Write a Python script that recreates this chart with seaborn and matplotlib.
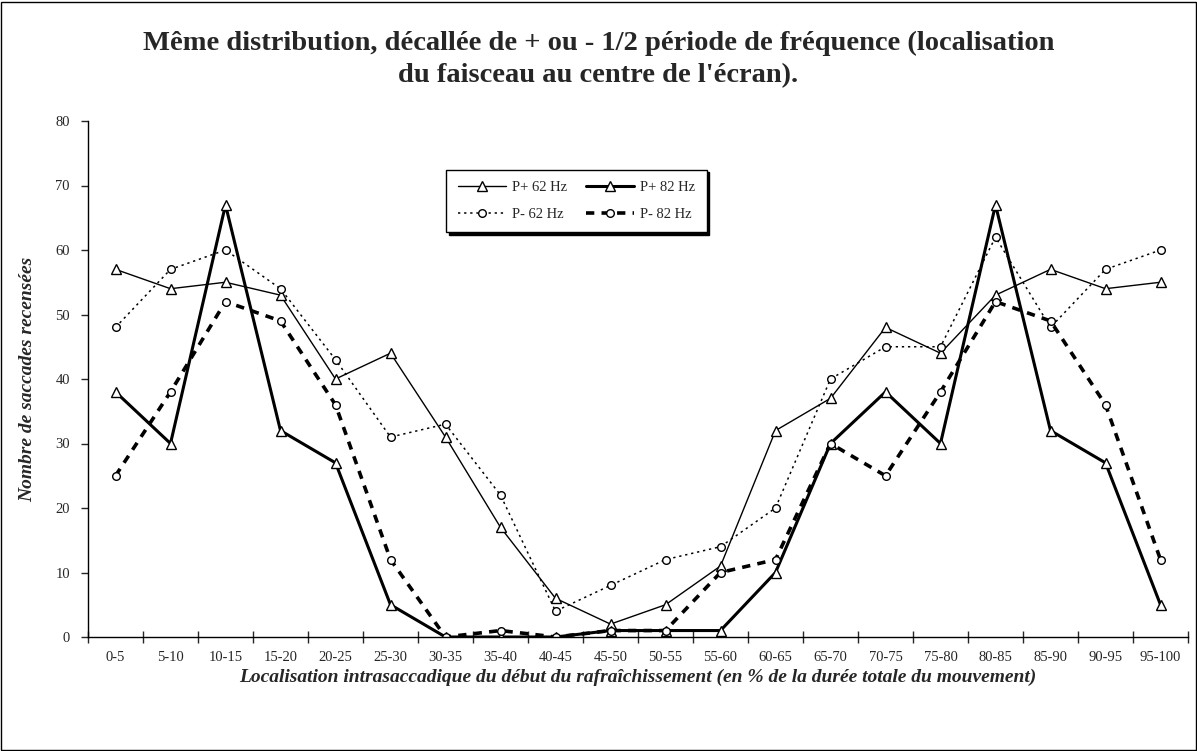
import pandas as pd
import seaborn as sns
import matplotlib.pyplot as plt
from matplotlib.ticker import FixedLocator

# Categories (x axis) and series
categories = ['0-5', '5-10', '10-15', '15-20', '20-25', '25-30', '30-35', '35-40',
              '40-45', '45-50', '50-55', '55-60', '60-65', '65-70', '70-75', '75-80',
              '80-85', '85-90', '90-95', '95-100']
p_plus_62 = [57, 54, 55, 53, 40, 44, 31, 17, 6, 2, 5, 11, 32, 37, 48, 44, 53, 57, 54, 55]
p_plus_82 = [38, 30, 67, 32, 27, 5, 0, 0, 0, 1, 1, 1, 10, 30, 38, 30, 67, 32, 27, 5]
p_minus_62 = [48, 57, 60, 54, 43, 31, 33, 22, 4, 8, 12, 14, 20, 40, 45, 45, 62, 48, 57, 60]
p_minus_82 = [25, 38, 52, 49, 36, 12, 0, 1, 0, 1, 1, 10, 12, 30, 25, 38, 52, 49, 36, 12]

sns.set_style('ticks')
plt.rcParams['font.family'] = ['Liberation Serif', 'DejaVu Serif']

fig = plt.figure(figsize=(11.97, 7.51), dpi=100)
ax = fig.add_axes([88 / 1197, 1 - 637 / 751, 1100 / 1197, 516 / 751])

df = pd.DataFrame({'cat': categories, 'p62': p_plus_62, 'p82': p_plus_82,
                   'm62': p_minus_62, 'm82': p_minus_82})

marker_kw = dict(markerfacecolor='white', markeredgecolor='black', color='black',
                 markeredgewidth=1)
sns.lineplot(data=df, x='cat', y='p62', ax=ax, marker='^', markersize=6.5, linewidth=1,
             label='P+ 62 Hz', sort=False, **marker_kw)
sns.lineplot(data=df, x='cat', y='m62', ax=ax, marker='o', markersize=5.5, linewidth=1.1,
             dashes=(1.5, 2.5), label='P- 62 Hz', sort=False, **marker_kw)
sns.lineplot(data=df, x='cat', y='p82', ax=ax, marker='^', markersize=6.5, linewidth=2.2,
             label='P+ 82 Hz', sort=False, **marker_kw)
sns.lineplot(data=df, x='cat', y='m82', ax=ax, marker='o', markersize=5.5, linewidth=2.6,
             dashes=(2.3, 2), label='P- 82 Hz', sort=False, **marker_kw)

ax.set_xlim(-0.5, len(categories) - 0.5)
ax.set_ylim(0, 80)
ax.set_yticks(range(0, 81, 10))
ax.set_xticks(range(len(categories)))
ax.set_xticklabels(categories)
ax.xaxis.set_minor_locator(FixedLocator([i - 0.5 for i in range(len(categories) + 1)]))
ax.tick_params(axis='x', which='major', length=0, labelsize=10.5, pad=10)
ax.tick_params(axis='x', which='minor', length=8, width=1, direction='inout')
ax.tick_params(axis='y', length=5, width=1, labelsize=10.5, pad=8, direction='out')
sns.despine(ax=ax)
for s in ['left', 'bottom']:
    ax.spines[s].set_color('black')
    ax.spines[s].set_linewidth(1)

ax.set_xlabel("Localisation intrasaccadique du début du rafraîchissement (en % de la durée totale du mouvement)",
              fontsize=14, fontweight='bold', fontstyle='italic')
ax.set_ylabel('Nombre de saccades recensées', fontsize=14, fontweight='bold', fontstyle='italic')
ax.xaxis.set_label_coords(0.5, -0.062)
ax.yaxis.set_label_coords(-0.047, 0.5)

fig.suptitle("Même distribution, décallée de + ou - 1/2 période de fréquence (localisation\n"
             "du faisceau au centre de l'écran).",
             x=0.5, y=1 - 31 / 751, va='top', fontsize=20.5, fontweight='bold', linespacing=1.38)

handles, labels = ax.get_legend_handles_labels()
leg = ax.legend(handles, labels, ncol=2, loc='center', bbox_to_anchor=(0.444, 0.845),
                fontsize=10.5, frameon=True, fancybox=False, shadow={'color': 'black', 'alpha': 1},
                edgecolor='black', framealpha=1, handlelength=3.3, columnspacing=1.3,
                borderpad=0.8, labelspacing=0.9, handletextpad=0.4)
leg.get_frame().set_linewidth(1)

# frame around the whole figure
fig.add_artist(plt.Rectangle((0.001, 0.001), 0.998, 0.997, transform=fig.transFigure,
                             fill=False, edgecolor='black', linewidth=1))

fig.savefig('out.png', dpi=100)
